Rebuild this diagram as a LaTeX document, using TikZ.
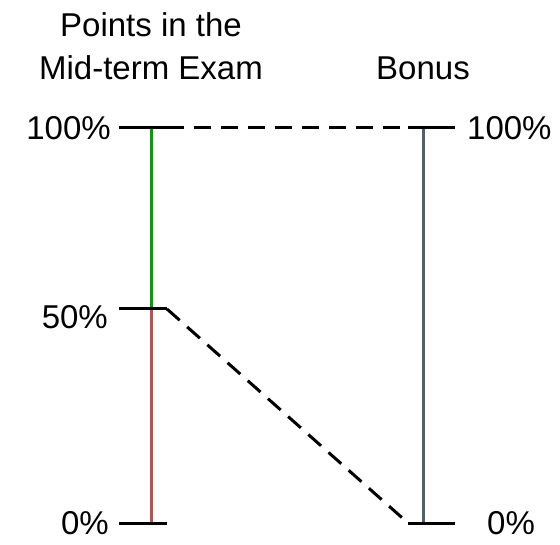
\documentclass[tikz,border=0pt]{standalone}
\usepackage{fontspec}
\setmainfont{Liberation Sans}
\definecolor{gline}{HTML}{00A000}
\definecolor{rline}{HTML}{B85450}
\definecolor{sline}{HTML}{4E6366}
\tikzset{
  tick/.style={line width=3pt, black},
  axis/.style={line width=3pt},
  dashline/.style={line width=3pt, dash pattern=on 17pt off 10pt},
  lab/.style={font=\fontsize{33}{39}\selectfont, inner sep=0pt},
}
\begin{document}
\begin{tikzpicture}[x=1pt,y=-1pt]
\useasboundingbox (0,0) rectangle (560,545);
% coordinates
\coordinate (Lt) at (151,128);
\coordinate (Lm) at (151,309);
\coordinate (Lb) at (151,523);
\coordinate (Rt) at (423,128);
\coordinate (Rb) at (423,523);
\coordinate (LtL) at (119,128);
\coordinate (LtR) at (167,128);
\coordinate (LmL) at (119,309);
\coordinate (LmR) at (167,309);
\coordinate (LbL) at (119,523);
\coordinate (LbR) at (167,523);
\coordinate (RtL) at (408,128);
\coordinate (RtR) at (455,128);
\coordinate (RbL) at (408,523);
\coordinate (RbR) at (455,523);
% axes
\draw[axis, gline] (Lt) -- (Lm);
\draw[axis, rline] (Lm) -- (Lb);
\draw[axis, sline] (Rt) -- (Rb);
% ticks
\draw[tick] (LtL) -- (LtR);
\draw[tick] (LmL) -- (LmR);
\draw[tick] (LbL) -- (LbR);
\draw[tick] (RtL) -- (RtR);
\draw[tick] (RbL) -- (RbR);
% dashed connectors
\draw[dashline] (LtR) -- (RtL);
\draw[dashline] (LmR) -- (RbL);
% labels
\node[lab, anchor=base] (t1) at (151,37) {Points in the};
\node[lab, anchor=base] (t2) at (151,80) {Mid-term Exam};
\node[lab, anchor=base] (t3) at (423,80) {Bonus};
\node[lab, anchor=east] (l100) at (111,128) {100\%};
\node[lab, anchor=east] (l50) at (108,317) {50\%};
\node[lab, anchor=east] (l0) at (109,523) {0\%};
\node[lab, anchor=west] (r100) at (467,128) {100\%};
\node[lab, anchor=west] (r0) at (487,523) {0\%};
\end{tikzpicture}
\end{document}
